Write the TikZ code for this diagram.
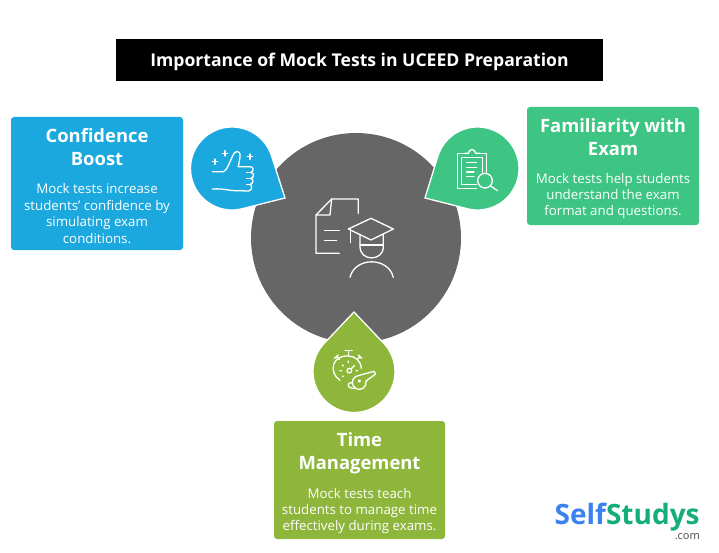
\documentclass[tikz,border=0pt]{standalone}
\usepackage{fontspec}
\setmainfont{Open Sans}
\definecolor{cblue}{HTML}{1BA8DF}
\definecolor{cgreen}{HTML}{3EC483}
\definecolor{colive}{HTML}{8DB63A}
\definecolor{cgray}{HTML}{666666}
\definecolor{lblue}{HTML}{3B82F0}
\definecolor{lgreen}{HTML}{16AE78}
\tikzset{
  x=1pt,y=1pt,
  head/.style={text=white,align=center,font=\fontsize{18.4}{23}\selectfont\bfseries,inner sep=0pt},
  body/.style={text=white,align=center,font=\fontsize{13.3}{16.4}\selectfont,inner sep=0pt},
  icon/.style={draw=white,line width=1.3pt,line cap=round,line join=round,fill=none},
  dropshape/.style={fill=#1,draw=white,line width=1.3pt,line join=miter}
}
% centre x, centre y, radius, tip x, tip y, start angle, end angle, colour
\newcommand{\dropat}[8]{\path[dropshape=#8] (#4,-#5) -- ($(#1,-#2)+(#6:#3)$) arc[start angle=#6,end angle=#7,radius=#3] -- cycle;}
\usetikzlibrary{calc}
\begin{document}
\begin{tikzpicture}
\useasboundingbox (0,0) rectangle (719,-553);
\fill[white] (0,0) rectangle (719,-553);
% title
\node[fill=black,text=white,minimum width=487pt,minimum height=42pt,inner sep=0pt,text height=13pt,text depth=0pt,font=\fontsize{17.6}{21}\selectfont\bfseries] (title) at (359.5,-60) {Importance of Mock Tests in UCEED Preparation};
% main disc
\fill[cgray] (356,-238) circle[radius=105];
% drops
\dropat{232}{168.5}{41.5}{285}{198}{17.7}{284.1}{cblue}
\dropat{477.5}{168.5}{41.5}{425}{198}{255.7}{522.9}{cgreen}
\dropat{354}{371.5}{41}{354}{312}{136.4}{403.6}{colive}
% cards
\fill[cblue,rounded corners=3pt] (11,-117) rectangle (183,-250);
\fill[cgreen,rounded corners=3pt] (527,-107) rectangle (699,-225);
\fill[colive,rounded corners=3pt] (274,-421) rectangle (445,-539);
\node[head] (h1) at (97,-147) {Confidence\\Boost};
\node[body] (b1) at (97,-213.5) {Mock tests increase\\students' confidence by\\simulating exam\\conditions.};
\node[head] (h2) at (613,-137.5) {Familiarity with\\Exam};
\node[body] (b2) at (613,-196) {Mock tests help students\\understand the exam\\format and questions.};
\node[head] (h3) at (359.5,-453) {Time\\Management};
\node[body] (b3) at (359.5,-511) {Mock tests teach\\students to manage time\\effectively during exams.};
% centre icon
\begin{scope}[shift={(305,-190)},x=.3333pt,y=-.3333pt]
\draw[icon] (160,70)--(160,27)--(80,27)--(33,75)--(33,190)--(103,190);
\draw[icon] (33,75)--(75,75)--(80,27);
\draw[icon] (58,122)--(103,122) (58,152)--(95,152);
\draw[icon] (130,117)--(198,85)--(265,117)--(198,150)--cycle;
\draw[icon] (137,117)--(137,158);
\draw[icon] (165,133)--(165,170) .. controls (165,215) and (235,215) .. (235,170)--(235,133);
\draw[icon] (165,165)--(235,165);
\draw[icon] (135,262) .. controls (150,200) and (250,200) .. (265,262);
\end{scope}
% thumb icon
\begin{scope}[shift={(185,-120)},x=.3333pt,y=-.3333pt]
\draw[icon] (82,155)--(115,155) .. controls (130,150) and (140,105) .. (150,97) .. controls (160,90) and (168,100) .. (165,112) -- (160,140) -- (195,140) .. controls (207,140) and (207,155) .. (198,157) .. controls (208,160) and (208,172) .. (198,175) .. controls (206,178) and (206,190) .. (196,193) .. controls (202,198) and (202,212) .. (190,213) -- (150,212) .. controls (130,212) and (120,205) .. (82,207);
\draw[icon] (185,157)--(198,157) (185,175)--(198,175) (185,193)--(196,193);
\draw[icon] (82,125)--(98,125) (90,117)--(90,133) (112,100)--(128,100) (120,92)--(120,108) (187,110)--(203,110) (195,102)--(195,118);
\end{scope}
% clipboard icon
\begin{scope}[shift={(425,-120)},x=.3333pt,y=-.3333pt]
\draw[icon] (120,100)--(97,100)--(97,205)--(155,205);
\draw[icon] (120,100) -- (130,100) .. controls (132,85) and (150,85) .. (152,100) -- (165,100);
\draw[icon] (165,100)--(185,100)--(185,160);
\draw[icon] (110,113)--(110,193)--(155,193);
\draw[icon] (110,113)--(172,113)--(172,158);
\draw[icon] (125,128)--(155,128) (125,142)--(155,142) (125,156)--(147,156) (125,170)--(147,170);
\draw[icon] (180,182) circle[x radius=22,y radius=22];
\draw[icon] (197,198)--(217,212);
\end{scope}
% stopwatch icon
\begin{scope}[shift={(290,-300)},x=.3333pt,y=-.3333pt]
\draw[icon] (150,241) .. controls (115,218) and (125,165) .. (175,168) .. controls (195,168) and (212,182) .. (214,205);
\draw[icon] (165,152)--(187,152) (176,152)--(176,168);
\draw[icon] (133,175)--(145,165) (139,170)--(148,178) (215,175)--(205,165) (210,170)--(202,178);
\draw[icon] (178,212) circle[x radius=7,y radius=7];
\draw[icon] (183,207)--(193,197);
\draw[icon] (175,183)--(175,188) (150,212)--(155,212) (157,195)--(160,198) (158,230)--(160,228) (203,212)--(198,212);
\draw[icon] (257,222) -- (252,214) -- (208,226) .. controls (190,228) and (182,245) .. (190,258) .. controls (198,272) and (220,272) .. (227,255) -- (228,243) -- (257,222);
\draw[icon] (188,248) .. controls (170,245) and (170,265) .. (188,265) -- (195,264);
\draw[icon] (208,243) circle[x radius=3,y radius=3];
\end{scope}
% logo
\node[inner sep=0pt,anchor=base west,font=\fontsize{28}{30}\selectfont\bfseries] (logo) at (554.5,-524) {\textcolor{lblue}{Self}\textcolor{lgreen}{Studys}};
\node[inner sep=0pt,anchor=base east,text=black!70,font=\fontsize{11}{12}\selectfont] (dotcom) at (700,-539.5) {.com};
\end{tikzpicture}
\end{document}
